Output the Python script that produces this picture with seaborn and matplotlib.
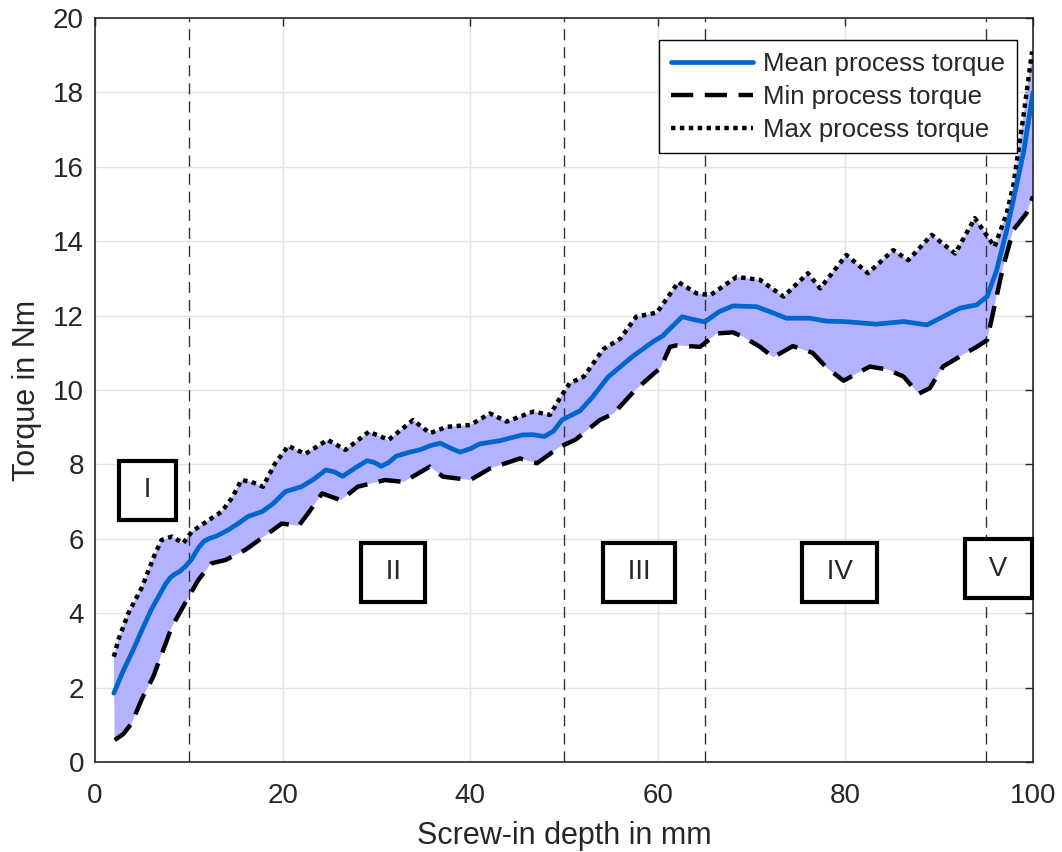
import numpy as np
import matplotlib
matplotlib.use("Agg")
import matplotlib.pyplot as plt
import seaborn as sns

# ------------------------------------------------------------------ #
# Data (screw-in depth in mm, torque in Nm)
# ------------------------------------------------------------------ #
mean_depth = [2.0, 3.0, 4.0, 5.0, 6.0, 7.0, 7.5, 8.0, 8.5, 9.0, 9.6, 10.3, 11.0,
              11.6, 12.1, 13.0, 14.2, 15.2, 16.3, 17.8, 19.0, 20.3, 22.0, 23.3,
              24.6, 25.5, 26.4, 27.7, 29.0, 29.8, 30.5, 31.3, 32.1, 33.4, 34.6,
              35.7, 36.8, 37.8, 38.9, 40.0, 41.0, 43.2, 45.5, 46.7, 47.9, 48.9,
              49.8, 51.7, 53.0, 54.7, 57.3, 59.5, 60.5, 61.5, 62.6, 63.7, 65.0,
              66.5, 68.0, 70.5, 72.0, 73.7, 76.2, 78.0, 79.8, 83.3, 86.2, 88.7,
              90.4, 92.2, 94.0, 95.1, 96.1, 97.2, 97.9, 99.0, 100.0]
mean_torque = [1.85, 2.45, 2.98, 3.55, 4.1, 4.55, 4.78, 4.95, 5.05, 5.12, 5.25, 5.45, 5.75,
               5.93, 6.0, 6.08, 6.24, 6.4, 6.6, 6.73, 6.95, 7.27, 7.4, 7.6,
               7.85, 7.8, 7.68, 7.9, 8.1, 8.05, 7.95, 8.05, 8.22, 8.32, 8.39,
               8.5, 8.57, 8.45, 8.33, 8.42, 8.55, 8.64, 8.79, 8.8, 8.75, 8.9,
               9.2, 9.44, 9.8, 10.35, 10.9, 11.3, 11.45, 11.7, 11.97, 11.9, 11.83,
               12.1, 12.26, 12.24, 12.1, 11.93, 11.93, 11.85, 11.84, 11.77, 11.84, 11.75,
               11.97, 12.2, 12.29, 12.51, 13.2, 14.3, 15.1, 16.4, 18.0]

min_depth = [2.1, 3.0, 3.9, 5.0, 6.2, 8.2, 9.6, 11.0, 12.4, 13.9, 16.0, 18.5,
             19.9, 21.7, 22.7, 24.2, 26.2, 28.0, 30.9, 32.9, 35.7, 37.1, 40.0,
             42.1, 45.3, 47.1, 49.6, 51.2, 53.8, 55.3, 57.4, 58.8, 60.3, 61.3,
             62.0, 64.5, 66.3, 68.0, 69.1, 70.9, 72.3, 74.4, 76.5, 78.0, 79.8,
             82.6, 84.5, 86.2, 87.8, 89.0, 90.4, 92.2, 94.0, 95.1, 95.8, 96.8,
             97.9, 99.3, 100.0]
min_torque = [0.59, 0.75, 1.04, 1.7, 2.29, 3.64, 4.27, 4.89, 5.34, 5.43, 5.7, 6.15,
              6.41, 6.35, 6.68, 7.22, 7.04, 7.4, 7.58, 7.53, 7.94, 7.67, 7.58,
              7.89, 8.16, 8.03, 8.48, 8.66, 9.19, 9.37, 9.95, 10.27, 10.6, 11.16,
              11.2, 11.16, 11.52, 11.55, 11.43, 11.16, 10.88, 11.18, 11.0, 10.6, 10.25,
              10.63, 10.55, 10.36, 9.9, 10.05, 10.63, 10.9, 11.16, 11.34, 12.15, 13.3,
              14.3, 14.75, 15.2]

max_depth = [2.0, 2.5, 3.55, 5.0, 6.4, 7.1, 8.2, 9.4, 10.3, 12.1, 13.5, 14.6,
             15.6, 16.7, 17.9, 19.2, 20.6, 22.4, 24.8, 26.7, 29.2, 31.3, 33.9,
             35.7, 37.5, 40.0, 42.1, 43.9, 46.7, 48.5, 49.6, 50.6, 52.1, 54.2,
             56.0, 57.7, 59.9, 62.2, 64.1, 65.6, 68.4, 70.9, 73.4, 76.0, 77.3,
             80.1, 82.4, 85.1, 86.7, 89.2, 91.7, 93.8, 95.9, 97.2, 97.9, 99.0, 99.9]
max_torque = [2.83, 3.3, 4.0, 4.7, 5.6, 5.97, 6.06, 5.88, 6.19, 6.5, 6.73, 7.1,
              7.58, 7.53, 7.4, 8.03, 8.5, 8.28, 8.66, 8.39, 8.88, 8.66, 9.19,
              8.84, 9.01, 9.06, 9.37, 9.15, 9.42, 9.33, 9.8, 10.18, 10.36, 11.1,
              11.38, 11.97, 12.08, 12.9, 12.6, 12.55, 13.04, 12.96, 12.51, 13.14, 12.73,
              13.63, 13.14, 13.76, 13.49, 14.17, 13.67, 14.62, 13.85, 14.75, 15.5, 17.4, 19.1]

phase_bounds = [10, 50, 65, 95]
phase_labels = ["I", "II", "III", "IV", "V"]
phase_label_x = [5.6, 31.8, 58.0, 79.4, 96.3]
phase_label_y = [7.3, 5.1, 5.1, 5.1, 5.2]

x_ticks = [0, 20, 40, 60, 80, 100]
y_ticks = list(range(0, 21, 2))

# ------------------------------------------------------------------ #
# Style
# ------------------------------------------------------------------ #
sns.set_theme(style="whitegrid")
plt.rcParams["font.family"] = ["Liberation Sans", "DejaVu Sans"]

MEAN_COLOR = "#0066CC"
FILL_COLOR = "#B2B2FF"
AXIS_COLOR = "#262626"

fig = plt.figure(figsize=(10.62, 8.52), dpi=100)
ax = fig.add_axes([0.0895, 0.1056, 0.8832, 0.8733])

# band between min and max
band_x = np.concatenate([max_depth, min_depth[::-1]])
band_y = np.concatenate([max_torque, min_torque[::-1]])
ax.fill(band_x, band_y, color=FILL_COLOR, lw=0, zorder=2)

# phase boundaries
for xb in phase_bounds:
    ax.axvline(xb, color="#333333", lw=1.0, linestyle=(0, (8, 5)), zorder=3)

sns.lineplot(x=mean_depth, y=mean_torque, ax=ax, color=MEAN_COLOR, linewidth=3.4,
             label="Mean process torque", zorder=5)
sns.lineplot(x=min_depth, y=min_torque, ax=ax, color="black", linewidth=3.2,
             linestyle=(0, (5, 2.6)), label="Min process torque", zorder=4)
sns.lineplot(x=max_depth, y=max_torque, ax=ax, color="black", linewidth=3.2,
             linestyle=(0, (1, 1)), label="Max process torque", zorder=4)
for ln in ax.get_lines():
    ln.set_solid_joinstyle("round")
    ln.set_solid_capstyle("round")

# phase labels in boxes
for lbl, lx, ly in zip(phase_labels, phase_label_x, phase_label_y):
    ax.text(lx, ly, f" {lbl} ", fontsize=20, color=AXIS_COLOR, ha="center",
            va="center", zorder=6,
            bbox=dict(boxstyle="square,pad=0.6", fc="white", ec="black", lw=3))

# axes
ax.set_xlim(0, 100)
ax.set_ylim(0, 20)
ax.set_xticks(x_ticks)
ax.set_yticks(y_ticks)
ax.set_xlabel("Screw-in depth in mm", fontsize=22, color=AXIS_COLOR, labelpad=9)
ax.set_ylabel("Torque in Nm", fontsize=22, color=AXIS_COLOR, labelpad=8)
ax.tick_params(direction="in", top=True, right=True, length=6, width=1.0,
               labelsize=20, colors=AXIS_COLOR)
ax.tick_params(axis="x", pad=15)
ax.tick_params(axis="y", pad=8)
ax.grid(True, color="#E3E3E3", lw=1.0)
ax.set_axisbelow(True)
for sp in ax.spines.values():
    sp.set_color(AXIS_COLOR)
    sp.set_linewidth(1.2)
    sp.set_visible(True)

leg = ax.legend(loc="upper right", bbox_to_anchor=(0.983, 0.97), fontsize=18.5,
                frameon=True, fancybox=False, framealpha=1, edgecolor="black",
                handlelength=3.2, borderpad=0.45, labelspacing=0.35,
                handletextpad=0.4, borderaxespad=0)
leg.get_frame().set_linewidth(1.0)

fig.savefig("out.png", dpi=100)
plt.close(fig)
